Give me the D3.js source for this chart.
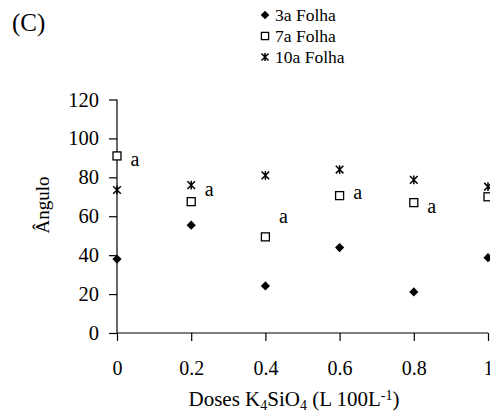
<!DOCTYPE html>
<html>
<head>
<meta charset="utf-8">
<script src="https://cdn.jsdelivr.net/npm/d3@7"></script>
<style>
  body { margin: 0; background: #fff; }
  svg text { font-family: "Liberation Serif", "Times New Roman", serif; fill: #000; }
</style>
</head>
<body>
<div id="chart"></div>
<script>
const width = 490;
const height = 412;

// Data
const doses = [0, 0.2, 0.4, 0.6, 0.8, 1];
const folha3 = [38, 55.4, 24.2, 43.9, 21.1, 38.7];
const folha7 = [91, 67.5, 49.4, 70.6, 67, 70];
const folha10 = [73.5, 76, 81, 84, 78.7, 75.2];
const letterDoses = [0, 0.2, 0.4, 0.6, 0.8];
const letterY = [89.5, 74, 60.3, 72.6, 65.3];
const letters = ["a", "a", "a", "a", "a"];
const xTicks = [0, 0.2, 0.4, 0.6, 0.8, 1];
const yTicks = [0, 20, 40, 60, 80, 100, 120];
const seriesNames = ["3a Folha", "7a Folha", "10a Folha"];

const margin = { top: 99.5, left: 117 };
const plotW = 371;
const plotH = 233.5;

const svg = d3.select("#chart")
  .append("svg")
  .attr("width", width)
  .attr("height", height);

const x = d3.scaleLinear().domain([0, 1]).range([margin.left, margin.left + plotW]);
const y = d3.scaleLinear().domain([0, 120]).range([margin.top + plotH, margin.top]);

// marker shapes
function diamond(s) {
  return `M0,${-s}L${s},0L0,${s}L${-s},0Z`;
}
function star(s) {
  return `M${-s},${-s}L${s},${s}M${-s},${s}L${s},${-s}M0,${-s * 1.15}L0,${s * 1.15}`;
}

function drawMarker(g, type) {
  if (type === 0) {
    g.append("path").attr("d", diamond(4.6)).attr("fill", "#000");
  } else if (type === 1) {
    g.append("rect").attr("x", -4).attr("y", -4).attr("width", 8).attr("height", 8)
      .attr("fill", "#fff").attr("stroke", "#000").attr("stroke-width", 1.3);
  } else {
    g.append("path").attr("d", star(3.8)).attr("fill", "none")
      .attr("stroke", "#000").attr("stroke-width", 1.5);
  }
}

// Axes
const xAxis = d3.axisBottom(x).tickValues(xTicks).tickSize(8).tickFormat(d3.format("~g"));
const yAxis = d3.axisLeft(y).tickValues(yTicks).tickSize(8);

const gx = svg.append("g")
  .attr("transform", `translate(0,${y(0)})`)
  .call(xAxis);
gx.select(".domain").attr("d", `M${x(0)},0H${x(1)}`);
gx.selectAll(".tick text")
  .attr("dy", 0)
  .attr("y", 42)
  .style("font-size", "20px");

const gy = svg.append("g")
  .attr("transform", `translate(${x(0)},0)`)
  .call(yAxis);
gy.select(".domain").attr("d", `M0,${y(0)}V${y(120)}`);
gy.selectAll(".tick text")
  .attr("x", -18)
  .style("font-size", "20.5px");

svg.selectAll(".domain, .tick line").attr("stroke", "#000").attr("stroke-width", 1.2);

// Points
[folha3, folha7, folha10].forEach((vals, si) => {
  vals.forEach((v, i) => {
    const g = svg.append("g").attr("transform", `translate(${x(doses[i])},${y(v)})`);
    drawMarker(g, si);
  });
});

// Letters
svg.selectAll("text.letter")
  .data(letters)
  .join("text")
  .attr("class", "letter")
  .attr("x", (d, i) => x(letterDoses[i]) + 18)
  .attr("y", (d, i) => y(letterY[i]))
  .attr("dy", "0.35em")
  .attr("text-anchor", "middle")
  .style("font-size", "20px")
  .text(d => d);

// Panel label
svg.append("text")
  .attr("x", 12)
  .attr("y", 31)
  .style("font-size", "25px")
  .text("(C)");

// Legend
const legend = svg.append("g");
seriesNames.forEach((name, i) => {
  const gy0 = 15 + i * 21;
  const m = legend.append("g").attr("transform", `translate(265,${gy0})`);
  if (i === 0) m.append("path").attr("d", diamond(4.3)).attr("fill", "#000");
  if (i === 1) m.append("rect").attr("x", -3.6).attr("y", -3.6).attr("width", 7.2).attr("height", 7.2)
    .attr("fill", "#fff").attr("stroke", "#000").attr("stroke-width", 1.3);
  if (i === 2) m.append("path").attr("d", star(3.5)).attr("fill", "none").attr("stroke", "#000").attr("stroke-width", 1.5);
  legend.append("text")
    .attr("x", 275)
    .attr("y", gy0)
    .attr("dy", "0.35em")
    .style("font-size", "17.5px")
    .text(name);
});

// Axis titles
const xt = svg.append("text")
  .attr("x", 294)
  .attr("y", 406)
  .attr("text-anchor", "middle")
  .style("font-size", "21px");
xt.append("tspan").text("Doses K");
xt.append("tspan").attr("baseline-shift", "-25%").style("font-size", "14px").text("4");
xt.append("tspan").text("SiO");
xt.append("tspan").attr("baseline-shift", "-25%").style("font-size", "14px").text("4");
xt.append("tspan").text(" (L 100L");
xt.append("tspan").attr("baseline-shift", "40%").style("font-size", "14px").text("-1");
xt.append("tspan").text(")");

svg.append("text")
  .attr("transform", `translate(49,205) rotate(-90)`)
  .attr("text-anchor", "middle")
  .style("font-size", "19px")
  .text("Ângulo");
</script>
</body>
</html>
